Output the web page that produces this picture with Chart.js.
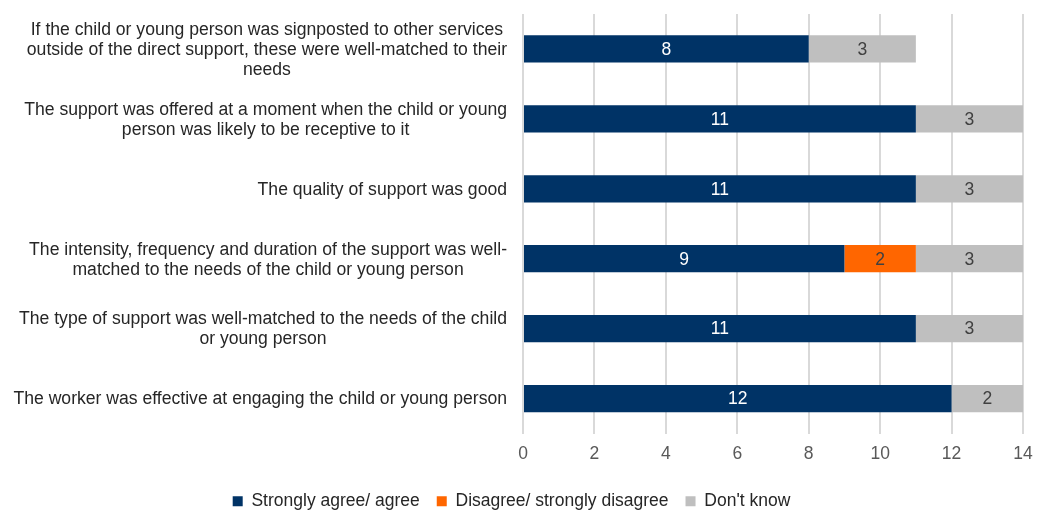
<!DOCTYPE html>
<html>
<head>
<meta charset="utf-8">
<script src="https://cdn.jsdelivr.net/npm/chart.js@4.4.0/dist/chart.umd.min.js"></script>
<style>
  html, body { margin: 0; padding: 0; background: #fff; }
  #wrap { width: 1046px; height: 513px; }
</style>
</head>
<body>
<div id="wrap"><canvas id="chart"></canvas></div>
<script>
// Category labels, split into lines as in the original
const categories = [
    ['If the child or young person was signposted to other services', 'outside of the direct support, these were well-matched to their', 'needs'],
    ['The support was offered at a moment when the child or young', 'person was likely to be receptive to it'],
    ['The quality of support was good'],
    ['The intensity, frequency and duration of the support was well-', 'matched to the needs of the child or young person'],
    ['The type of support was well-matched to the needs of the child', 'or young person'],
    ['The worker was effective at engaging the child or young person']
];

const seriesNames = ['Strongly agree/ agree', 'Disagree/ strongly disagree', "Don't know"];
const agree = [8, 11, 11, 9, 11, 12];
const disagree = [0, 0, 0, 2, 0, 0];
const dontKnow = [3, 3, 3, 3, 3, 2];

const xTicks = [0, 2, 4, 6, 8, 10, 12, 14];

const FONT = "'Liberation Sans', Arial, sans-serif";

// Draws the y labels: each block right-aligned, lines centred within the block
const categoryLabels = {
    id: 'categoryLabels',
    afterDraw(chart) {
        const ctx = chart.ctx;
        const y = chart.scales.y;
        ctx.save();
        ctx.font = '17.6px ' + FONT;
        ctx.fillStyle = '#262626';
        ctx.textAlign = 'center';
        ctx.textBaseline = 'middle';
        const right = chart.chartArea.left - 16;
        categories.forEach((lines, i) => {
            const maxW = Math.max(...lines.map(l => ctx.measureText(l).width));
            const cx = right - maxW / 2;
            const cy = y.getPixelForValue(i) + 1;
            const lh = 20;
            lines.forEach((line, k) => {
                ctx.fillText(line, cx, cy - (lines.length - 1) * lh / 2 + k * lh);
            });
        });
        ctx.restore();
    }
};

// Value labels in the middle of each segment
const valueLabels = {
    id: 'valueLabels',
    afterDatasetsDraw(chart) {
        const ctx = chart.ctx;
        ctx.save();
        ctx.font = '17.5px ' + FONT;
        ctx.textAlign = 'center';
        ctx.textBaseline = 'middle';
        chart.data.datasets.forEach((ds, di) => {
            const meta = chart.getDatasetMeta(di);
            meta.data.forEach((bar, i) => {
                const v = ds.data[i];
                if (!v) return;
                ctx.fillStyle = di === 0 ? '#ffffff' : '#404040';
                ctx.fillText(String(v), (bar.x + bar.base) / 2, bar.y + 1);
            });
        });
        ctx.restore();
    }
};

new Chart(document.getElementById('chart'), {
    type: 'bar',
    data: {
        labels: categories.map(c => c.join(' ')),
        datasets: [
            { label: seriesNames[0], data: agree, backgroundColor: '#003366' },
            { label: seriesNames[1], data: disagree, backgroundColor: '#ff6600' },
            { label: seriesNames[2], data: dontKnow, backgroundColor: '#bfbfbf' }
        ]
    },
    options: {
        indexAxis: 'y',
        responsive: true,
        maintainAspectRatio: false,
        animation: false,
        datasets: {
            bar: { categoryPercentage: 1, barPercentage: 0.39 }
        },
        layout: {
            padding: { top: 14, right: 23, left: 0, bottom: -7 }
        },
        scales: {
            x: {
                stacked: true,
                min: 0,
                max: 14,
                afterBuildTicks(scale) {
                    scale.ticks = xTicks.map(v => ({ value: v }));
                },
                grid: { color: '#d9d9d9', lineWidth: 2, drawTicks: false },
                border: { display: false },
                ticks: {
                    padding: 10.5,
                    color: '#595959',
                    font: { family: FONT, size: 17.5 }
                }
            },
            y: {
                stacked: true,
                grid: { display: false },
                border: { display: false },
                ticks: { display: false },
                afterFit(scale) {
                    scale.width = 523;
                }
            }
        },
        plugins: {
            legend: {
                position: 'bottom',
                labels: {
                    boxWidth: 10,
                    boxHeight: 10,
                    padding: 17,
                    color: '#262626',
                    font: { family: FONT, size: 17.5 }
                }
            },
            tooltip: { enabled: false }
        }
    },
    plugins: [categoryLabels, valueLabels]
});
</script>
</body>
</html>
